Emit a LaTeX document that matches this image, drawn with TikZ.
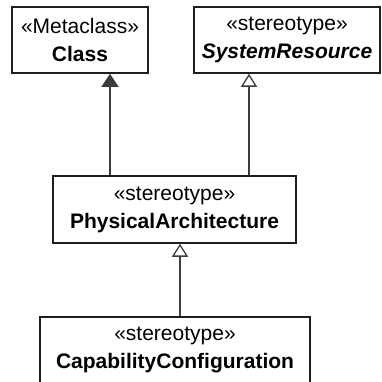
\documentclass[tikz,border=0pt]{standalone}
\usepackage{fontspec}
\setmainfont{Liberation Sans}
\usetikzlibrary{arrows.meta,calc,positioning}
\definecolor{ink}{HTML}{1E1E1E}
\definecolor{inkgray}{HTML}{3C3C3C}
\definecolor{paper}{HTML}{FFFFFF}
\tikzset{
  umlbox/.style={draw=ink,fill=paper,line width=1.5pt,align=center,inner sep=0pt,
    font=\fontsize{21}{28}\selectfont},
  extends/.style={draw=inkgray,line width=1.3pt,-{Triangle[width=17pt,length=13pt,fill=inkgray]}},
  generalizes/.style={draw=inkgray,line width=1.3pt,-{Triangle[open,width=16pt,length=13pt,fill=paper]}}
}

\begin{document}
\begin{tikzpicture}[x=1pt,y=-1pt]
  \clip (0,0) rectangle (382,381);
  \fill[paper] (0,0) rectangle (382,381);

  \node[umlbox,minimum width=136,minimum height=66] (cls) at (80,40)
    {\guillemotleft Metaclass\guillemotright\\\textbf{Class}};
  \node[umlbox,minimum width=186,minimum height=66] (sysres) at (287,40)
    {\guillemotleft stereotype\guillemotright\\\textbf{\itshape SystemResource}};
  \node[umlbox,minimum width=243,minimum height=67] (phys) at (174.5,209.5)
    {\guillemotleft stereotype\guillemotright\\\textbf{PhysicalArchitecture}};
  \node[umlbox,minimum width=270,minimum height=66] (capcfg) at (175,350)
    {\guillemotleft stereotype\guillemotright\\\textbf{CapabilityConfiguration}};

  % connector lanes
  \coordinate (lanecls) at (110,0);
  \coordinate (lanesys) at (249,0);
  \coordinate (lanephys) at (180,0);

  \draw[extends] (lanecls |- phys.north) -- (lanecls |- cls.south);
  \draw[generalizes] (lanesys |- phys.north) -- (lanesys |- sysres.south);
  \draw[generalizes] (lanephys |- capcfg.north) -- (lanephys |- phys.south);
\end{tikzpicture}
\end{document}
